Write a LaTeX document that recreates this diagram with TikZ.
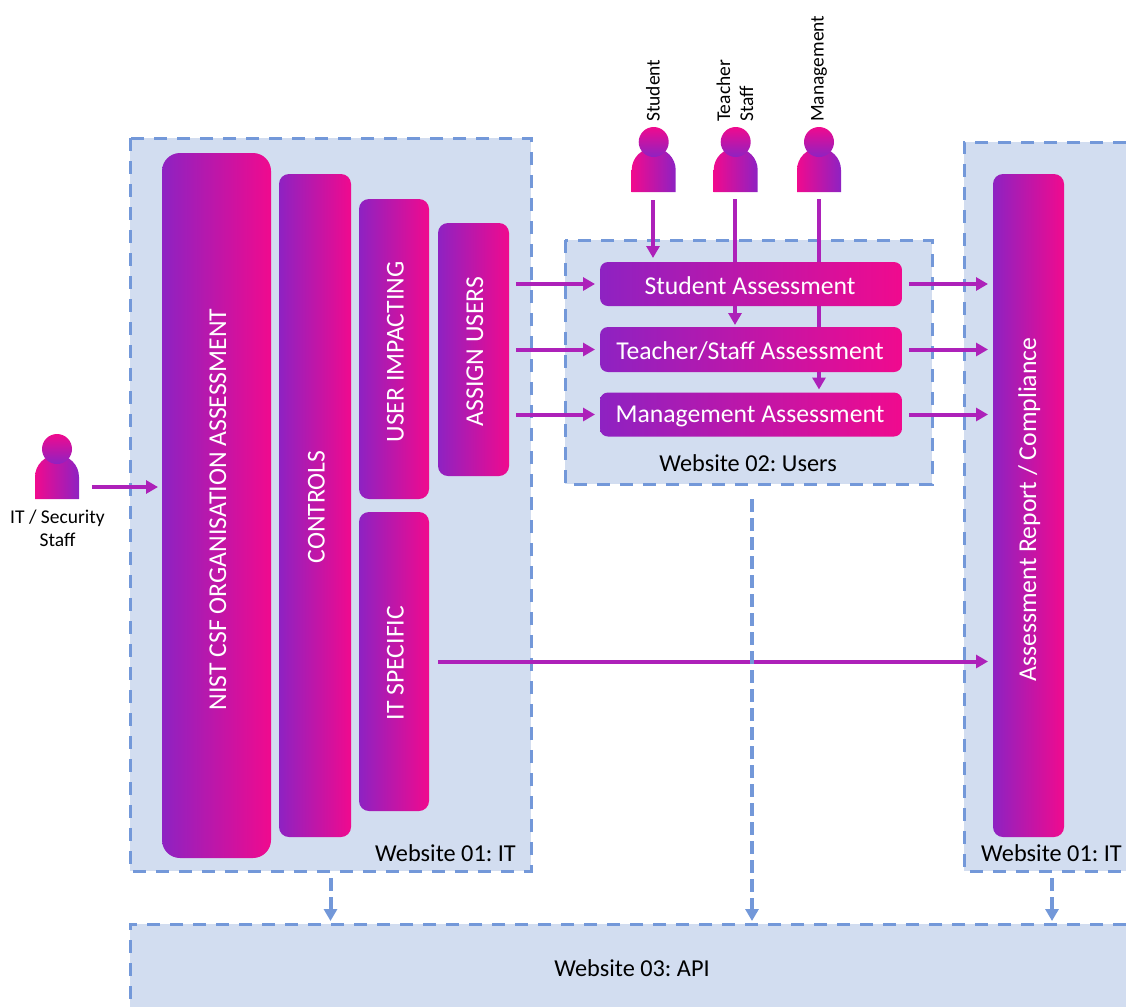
\documentclass[tikz,border=0pt]{standalone}
\usepackage{fontspec}
\setmainfont{Carlito}
\usetikzlibrary{arrows.meta,calc}
\definecolor{gpurple}{HTML}{8E22C2}
\definecolor{gpink}{HTML}{F00A8E}
\definecolor{flowc}{HTML}{AD21B9}
\definecolor{dashc}{HTML}{7398D9}
\definecolor{zonec}{HTML}{D2DDF0}
\pgfdeclarelayer{zones}
\pgfdeclarelayer{conn}
\pgfsetlayers{zones,conn,main}
\newcommand\vtext[2]{\rotatebox{90}{\raisebox{1.5pt}{\vphantom{d}}#2\hspace*{#1}}}
\newcommand\htext[1]{\raisebox{3pt}{\vphantom{d}}\hspace*{-2pt}#1}
\tikzset{
  zone/.style={fill=zonec,inner sep=0pt,outer sep=0pt},
  zoneline/.style={draw=dashc,line width=3pt,dash pattern=on 13pt off 10pt},
  gbox/.style={left color=gpurple,right color=gpink,inner sep=0pt,outer sep=0pt,text=white,align=center},
  flow/.style={draw=flowc,line width=4pt,-{Triangle[length=12pt,width=13pt,fill=flowc]}},
  apiflow/.style={draw=dashc,line width=4pt,dash pattern=on 13pt off 6pt,-{Triangle[length=12pt,width=13pt,fill=dashc]}},
  small/.style={font=\fontsize{19.5}{23}\selectfont,align=center,inner sep=0pt},
  zonelabel/.style={font=\fontsize{24.3}{28}\selectfont,inner sep=0pt},
  boxtext/.style={font=\fontsize{25.7}{30}\selectfont},
  pics/personfig/.style={code={
    \path[left color=gpink,right color=gpurple] (-22,0) -- (-22,-22) arc[start angle=180,end angle=0,radius=22pt] -- (22,0) -- cycle;
    \path[top color=gpink,bottom color=gpurple] (0,-50) circle[radius=15pt];
  }}
}
\begin{document}
\frenchspacing
\begin{tikzpicture}[x=1pt,y=-1pt]
\useasboundingbox (0,0) rectangle (1126,1007);
% zones
\begin{pgfonlayer}{zones}
\node[zone,minimum width=401pt,minimum height=733pt] (web1) at (330.5,504.5) {};
\node[zone,minimum width=367pt,minimum height=244pt] (web2) at (748.5,362) {};
\node[zone,minimum width=162pt,minimum height=729pt] (web1r) at (1045,506.5) {};
\node[zone,minimum width=996pt,minimum height=83pt] (web3) at (628,965.5) {};
\draw[zoneline] (web1.north west) rectangle (web1.south east);
\draw[zoneline] (web2.north west) rectangle (web2.south east);
\draw[zoneline] (web1r.north east) -- (web1r.north west) -- (web1r.south west) -- (web1r.south east);
\draw[zoneline] (web3.north east) -- (web3.north west) -- (web3.south west);
\end{pgfonlayer}
% boxes
\node[gbox,boxtext,rounded corners=18pt,minimum width=109pt,minimum height=705pt] (nist) at (216.5,505.5) {\vtext{8pt}{NIST CSF ORGANISATION ASSESSMENT}};
\node[gbox,boxtext,rounded corners=10pt,minimum width=72pt,minimum height=663pt] (controls) at (315,505.5) {\vtext{3pt}{CONTROLS}};
\node[gbox,boxtext,rounded corners=10pt,minimum width=70pt,minimum height=300pt] (impact) at (394,349) {\vtext{6pt}{USER IMPACTING}};
\node[gbox,boxtext,rounded corners=10pt,minimum width=70pt,minimum height=299pt] (itspec) at (394,661.5) {\vtext{3pt}{IT SPECIFIC}};
\node[gbox,boxtext,rounded corners=10pt,minimum width=71pt,minimum height=253pt] (assign) at (473.5,349.5) {\vtext{4pt}{ASSIGN USERS}};
\node[gbox,boxtext,rounded corners=8pt,minimum width=302pt,minimum height=44pt] (sa) at (751,284) {\htext{Student Assessment}};
\node[gbox,boxtext,rounded corners=8pt,minimum width=302pt,minimum height=45pt] (ta) at (751,349.5) {\htext{Teacher/Staff Assessment}};
\node[gbox,boxtext,rounded corners=8pt,minimum width=302pt,minimum height=44pt] (ma) at (751,414.5) {\htext{Management Assessment}};
\node[gbox,boxtext,rounded corners=10pt,minimum width=71pt,minimum height=663pt] (report) at (1028.5,505.5) {\vtext{8pt}{Assessment Report / Compliance}};
% people
\pic (pit) at (57,499) {personfig};
\pic (pst) at (653.7,192) {personfig};
\pic (pte) at (735.7,192) {personfig};
\pic (pma) at (819,192) {personfig};
\coordinate (itout) at (92,487);
\coordinate (stout) at (653,200);
\coordinate (teout) at (735,199);
\coordinate (maout) at (819,199);
% labels
\node[small] (lit) at (57.5,528.5) {IT / Security\\Staff};
\node[small,rotate=90,anchor=west] (lst) at (653,122) {Student};
\node[small,rotate=90,anchor=west,align=left] (lte) at (735,122) {Teacher\\Staff};
\node[small,rotate=90,anchor=west] (lma) at (819,122) {Management};
\node[zonelabel,anchor=east] (l1) at (516,853) {Website 01: IT};
\node[zonelabel] (l2) at (748,463) {Website 02: Users};
\node[zonelabel,anchor=east] (l1r) at (1122,853) {Website 01: IT};
\node[zonelabel] (l3) at (632,968) {Website 03: API};
% connectors
\begin{pgfonlayer}{conn}
\draw[flow] (itout) -- ([xshift=-4pt]itout -| nist.west);
\draw[flow] (stout) -- ([yshift=4pt]stout |- sa.north);
\draw[flow] (teout) -- ([yshift=2pt]teout |- ta.north);
\draw[flow] (maout) -- ([yshift=3pt]maout |- ma.north);
\foreach \b in {sa,ta,ma}{
  \draw[flow] ([xshift=7pt]assign.east |- \b.west) -- ([xshift=-5pt]\b.west);
  \draw[flow] ([xshift=7pt]\b.east) -- ([xshift=-5pt]report.west |- \b.east);
}
\draw[flow] ([xshift=9pt]itspec.east) -- ([xshift=-5pt]report.west |- itspec.east);
\coordinate (d2) at (752,499);
\coordinate (d3) at (1052,878);
\draw[apiflow] ([yshift=-7pt]web1.south) -- ([yshift=3pt]web3.north -| web1.south);
\draw[apiflow] (d2) -- ([yshift=3pt]web3.north -| d2);
\draw[apiflow] (d3) -- ([yshift=3pt]web3.north -| d3);
\end{pgfonlayer}
\end{tikzpicture}
\end{document}
